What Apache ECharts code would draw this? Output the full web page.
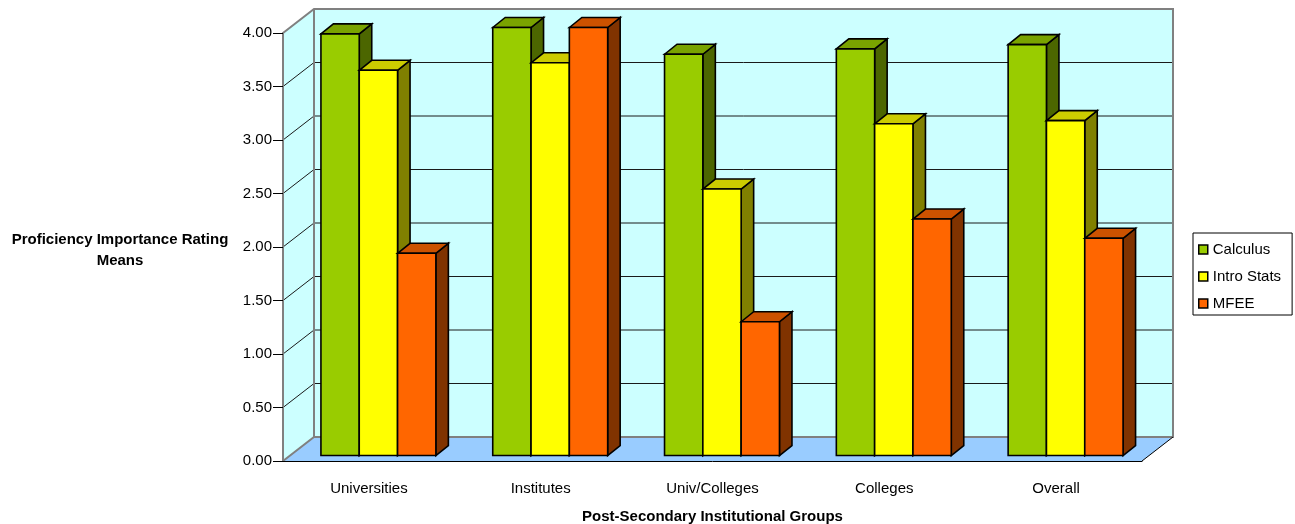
<!DOCTYPE html>
<html>
<head>
<meta charset="utf-8">
<script src="https://cdn.jsdelivr.net/npm/echarts@6/dist/echarts.min.js"></script>
<style>
html,body{margin:0;padding:0;background:#fff;}
#chart{width:1295px;height:524px;}
</style>
</head>
<body>
<div id="chart"></div>
<script>
const categories = ['Universities', 'Institutes', 'Univ/Colleges', 'Colleges', 'Overall'];
const calculus = [3.94, 4.00, 3.75, 3.80, 3.84];
const introStats = [3.60, 3.67, 2.49, 3.10, 3.13];
const mfee = [1.89, 4.00, 1.25, 2.21, 2.03];
const seriesNames = ['Calculus', 'Intro Stats', 'MFEE'];
const yTicks = [0, 0.5, 1.0, 1.5, 2.0, 2.5, 3.0, 3.5, 4.0];

const FONT = 'Liberation Sans, Arial, sans-serif';
// 3D projection styling
const WALL_DX = 31, WALL_DY = -24;     // depth of the chart box
const BAR_SX = 9.5, BAR_SY = -5.5;     // bar front plane offset
const BAR_DX = 12.5, BAR_DY = -10;     // bar depth
const BAR_W = 0.223;                   // fraction of category band

const faceColors = [
  {front: '#99CC00', top: '#7AA300', side: '#4C6600'},
  {front: '#FFFF00', top: '#CCCC00', side: '#808000'},
  {front: '#FF6600', top: '#CC5200', side: '#803300'}
];

function barRenderer(idx) {
  const c = faceColors[idx];
  return function (params, api) {
    const ci = api.value(0), v = api.value(1);
    const base = api.coord([ci, 0]);
    const top = api.coord([ci, v]);
    const band = api.size([1, 0])[0];
    const bw = band * BAR_W;
    const x0 = base[0] - 1.5 * bw + idx * bw + BAR_SX;
    const x1 = x0 + bw;
    const yb = base[1] + BAR_SY, yt = top[1] + BAR_SY;
    const st = {stroke: '#000', lineWidth: 1.6, lineJoin: 'miter'};
    return {
      type: 'group',
      children: [
        {type: 'polygon', shape: {points: [[x1, yt], [x1 + BAR_DX, yt + BAR_DY], [x1 + BAR_DX, yb + BAR_DY], [x1, yb]]},
          style: Object.assign({fill: c.side}, st)},
        {type: 'polygon', shape: {points: [[x0, yt], [x0 + BAR_DX, yt + BAR_DY], [x1 + BAR_DX, yt + BAR_DY], [x1, yt]]},
          style: Object.assign({fill: c.top}, st)},
        {type: 'polygon', shape: {points: [[x0, yt], [x1, yt], [x1, yb], [x0, yb]]},
          style: Object.assign({fill: c.front}, st)}
      ]
    };
  };
}

function wallRenderer(params, api) {
  const band = api.size([1, 0])[0];
  const yMax = yTicks[yTicks.length - 1];
  const p0 = api.coord([0, 0]);
  const pN = api.coord([categories.length - 1, 0]);
  const left = p0[0] - band / 2, right = pN[0] + band / 2;
  const yb = p0[1], yt = api.coord([0, yMax])[1];
  const ch = [];
  ch.push({type: 'polygon', shape: {points: [[left, yb], [left, yt], [left + WALL_DX, yt + WALL_DY], [left + WALL_DX, yb + WALL_DY]]},
    style: {fill: '#CCFFFF'}});
  ch.push({type: 'polygon', shape: {points: [[left + WALL_DX, yt + WALL_DY], [right + WALL_DX, yt + WALL_DY], [right + WALL_DX, yb + WALL_DY], [left + WALL_DX, yb + WALL_DY]]},
    style: {fill: '#CCFFFF'}});
  ch.push({type: 'polygon', shape: {points: [[left, yb], [right, yb], [right + WALL_DX, yb + WALL_DY], [left + WALL_DX, yb + WALL_DY]]},
    style: {fill: '#99CCFF'}});
  yTicks.forEach(function (t) {
    if (t === 0 || t === yMax) return;
    const y = api.coord([0, t])[1];
    ch.push({type: 'polyline', shape: {points: [[left, y], [left + WALL_DX, y + WALL_DY], [right + WALL_DX, y + WALL_DY]]},
      style: {stroke: '#1a1a1a', lineWidth: 1, fill: null}});
  });
  const g = {stroke: '#808080', lineWidth: 2, fill: null};
  ch.push({type: 'polyline', shape: {points: [[left, yt], [left + WALL_DX, yt + WALL_DY], [right + WALL_DX, yt + WALL_DY], [right + WALL_DX, yb + WALL_DY], [left + WALL_DX, yb + WALL_DY], [left, yb]]}, style: g});
  ch.push({type: 'line', shape: {x1: left + WALL_DX, y1: yt + WALL_DY, x2: left + WALL_DX, y2: yb + WALL_DY}, style: g});
  ch.push({type: 'line', shape: {x1: right, y1: yb, x2: right + WALL_DX, y2: yb + WALL_DY}, style: {stroke: '#000', lineWidth: 1}});
  return {type: 'group', children: ch};
}

const seriesData = [calculus, introStats, mfee];

const option = {
  animation: false,
  backgroundColor: '#fff',
  textStyle: {fontFamily: FONT},
  title: {
    text: 'Proficiency Importance Rating\nMeans',
    left: 115, top: 224, textAlign: 'center',
    textStyle: {fontFamily: FONT, fontSize: 15, fontWeight: 'bold', color: '#000', lineHeight: 21}
  },
  legend: {
    orient: 'vertical', left: 1193, top: 233,
    data: seriesNames,
    icon: 'rect', itemWidth: 9, itemHeight: 9, itemGap: 10,
    padding: [8, 11, 3, 5],
    borderColor: '#000', borderWidth: 1,
    itemStyle: {borderColor: '#000', borderWidth: 1.5},
    textStyle: {fontFamily: FONT, fontSize: 15, color: '#000', lineHeight: 17},
    selectedMode: false
  },
  grid: {left: 283, right: 153, top: 33, bottom: 63, containLabel: false, outerBoundsMode: 'none'},
  xAxis: {
    type: 'category', data: categories, z: 5,
    axisLine: {lineStyle: {color: '#000', width: 1}},
    axisTick: {length: 9, lineStyle: {color: '#000'}},
    axisLabel: {fontFamily: FONT, fontSize: 15, color: '#000', margin: 20},
    name: 'Post-Secondary Institutional Groups', nameLocation: 'middle', nameGap: 48,
    nameTextStyle: {fontFamily: FONT, fontSize: 15, fontWeight: 'bold', color: '#000'}
  },
  yAxis: {
    type: 'value', min: 0, max: 4, interval: 0.5, z: 5,
    axisLine: {show: true, lineStyle: {color: '#808080', width: 2}},
    axisTick: {show: true, length: 10, lineStyle: {color: '#000', width: 1}},
    axisLabel: {fontFamily: FONT, fontSize: 15, color: '#000', margin: 11,
      formatter: function (v) { return v.toFixed(2); }},
    splitLine: {show: false}
  },
  series: [
    {type: 'custom', name: 'walls', silent: true, z: 0,
      renderItem: wallRenderer, data: [[0, 0]], encode: {x: 0, y: 1}}
  ].concat(seriesNames.map(function (name, i) {
    return {
      type: 'custom', name: name, z: 2,
      itemStyle: {color: faceColors[i].front, borderColor: '#000', borderWidth: 1.5},
      renderItem: barRenderer(i),
      encode: {x: 0, y: 1},
      data: seriesData[i].map(function (v, k) { return [k, v]; })
    };
  }))
};

const chart = echarts.init(document.getElementById('chart'), null, {renderer: 'canvas'});
chart.setOption(option);
</script>
</body>
</html>
